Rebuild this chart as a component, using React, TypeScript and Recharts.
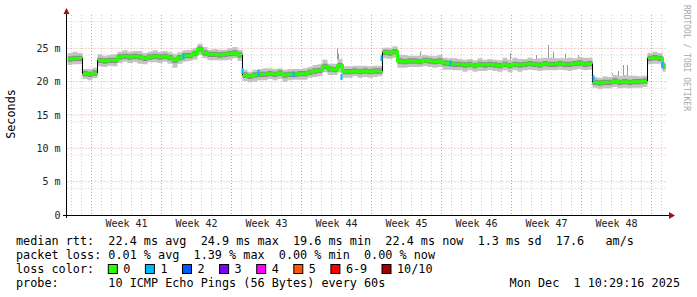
import {
  ComposedChart,
  Area,
  Line,
  Scatter,
  XAxis,
  YAxis,
  CartesianGrid,
  ReferenceLine,
} from 'recharts';

// one sample every half day, day 0 = left edge of the plot
const STEP = 0.5;
const END_DAY = 59.8;

// median rtt in ms
const median = [
  23.4, 23.5, 23.5, 21.2, 21.1, 21.3, 23.2, 23.1, 23.2, 23.2,
  23.7, 23.8, 23.7, 23.8, 23.7, 23.5, 23.7, 23.8, 23.7, 23.8,
  23.6, 23.2, 23.6, 23.9, 23.9, 24.2, 24.9, 24.3, 24.1, 24.1,
  24.0, 24.1, 24.2, 24.3, 24.0, 21.0, 20.8, 21.0, 21.1, 21.1,
  21.2, 21.1, 21.3, 21.0, 21.1, 21.1, 21.2, 21.2, 21.4, 21.6,
  21.7, 22.3, 21.9, 21.8, 22.4, 21.5, 21.5, 21.6, 21.5, 21.6,
  21.5, 21.6, 21.6, 24.4, 24.3, 24.5, 23.1, 23.0, 23.1, 23.1,
  23.0, 23.2, 23.1, 23.0, 23.1, 22.8, 22.7, 22.6, 22.6, 22.5,
  22.6, 22.4, 22.6, 22.5, 22.6, 22.5, 22.4, 22.6, 22.4, 22.6,
  22.5, 22.6, 22.7, 22.6, 22.5, 22.7, 22.6, 22.6, 22.7, 22.6,
  22.6, 22.7, 22.8, 22.6, 22.7, 19.9, 19.8, 19.9, 19.9, 20.1,
  19.9, 20.0, 19.9, 20.0, 20.0, 20.1, 23.5, 23.6, 23.5, 22.3,
];

// how far the smoke reaches above / below the median (ms)
const smokeUp = [
  0.9, 1.0, 0.8, 0.7, 0.8, 0.8, 0.9, 0.8, 0.8, 0.9,
  0.8, 0.9, 0.8, 0.8, 0.9, 0.8, 0.8, 0.9, 0.8, 0.8,
  0.8, 1.0, 0.8, 0.8, 0.9, 0.8, 0.8, 0.9, 0.7, 0.8,
  0.8, 0.7, 0.8, 0.9, 0.8, 0.8, 0.7, 0.8, 0.8, 0.9,
  0.8, 0.8, 0.7, 0.8, 0.8, 0.8, 0.7, 0.8, 0.8, 0.9,
  0.9, 1.0, 0.8, 0.9, 1.0, 0.8, 0.8, 0.8, 0.9, 0.8,
  0.8, 0.8, 0.8, 0.7, 0.8, 0.8, 0.9, 1.0, 0.8, 0.8,
  0.9, 0.8, 0.8, 0.8, 0.9, 0.8, 0.8, 0.9, 0.8, 0.8,
  0.8, 0.8, 0.9, 0.8, 0.8, 0.8, 0.8, 1.0, 0.9, 1.0,
  0.9, 0.8, 0.9, 0.8, 1.0, 0.9, 1.0, 0.9, 0.8, 0.9,
  1.0, 0.8, 0.9, 1.0, 0.9, 0.8, 0.8, 0.9, 0.8, 0.9,
  0.9, 1.0, 1.0, 0.9, 0.8, 0.8, 0.8, 0.9, 0.8, 0.7,
];
const smokeDown = [
  0.9, 0.9, 0.9, 0.8, 0.9, 0.8, 0.9, 0.9, 0.8, 0.9,
  0.9, 0.8, 0.9, 0.9, 1.0, 0.9, 0.8, 0.9, 0.9, 0.8,
  0.9, 1.1, 0.9, 0.9, 0.8, 0.9, 0.9, 0.8, 0.9, 0.9,
  0.8, 0.9, 0.9, 0.8, 0.9, 0.9, 0.9, 1.0, 0.9, 0.9,
  0.8, 0.9, 0.9, 1.0, 0.9, 0.8, 0.9, 0.9, 0.8, 0.9,
  0.9, 0.9, 0.9, 0.8, 1.0, 0.9, 0.9, 0.8, 0.9, 0.9,
  0.9, 0.9, 0.8, 0.9, 0.9, 0.9, 1.0, 0.9, 0.9, 0.9,
  0.8, 0.9, 0.9, 0.9, 0.9, 1.0, 0.9, 0.9, 0.9, 1.0,
  0.9, 0.9, 1.0, 0.9, 0.9, 0.9, 0.9, 0.9, 1.0, 0.9,
  1.0, 0.9, 0.9, 0.9, 0.9, 1.0, 0.9, 0.9, 0.9, 0.9,
  1.0, 0.9, 0.9, 0.9, 0.9, 0.8, 0.9, 0.9, 0.9, 0.9,
  0.9, 0.9, 0.9, 0.9, 0.9, 0.9, 0.9, 0.9, 0.8, 0.8,
];
const INNER = 0.4;

// thin single-ping spikes above the smoke
const spikeDays = [25.6, 27.0, 27.1, 35.3, 44.3, 46.9, 48.1, 48.6, 49.8, 51.1, 54.5, 55.1, 55.6, 56.0];
const spikeTops = [23.2, 25.0, 24.2, 24.5, 24.3, 24.0, 25.5, 24.5, 24.2, 24.0, 21.3, 21.6, 22.5, 22.5];

// samples with 1/10 loss (cyan)
const lossDays = [11.6, 17.5, 19.1, 22.6, 27.4, 31.4, 38.3, 52.6, 59.5];
const lossValues = [23.75, 21.6, 21.3, 21.1, 20.7, 23.5, 22.75, 20.5, 22.5];

const weekTicks = [5.9, 12.9, 19.9, 26.9, 33.9, 40.9, 47.9, 54.9];
const weekLabels = ['Week 41', 'Week 42', 'Week 43', 'Week 44', 'Week 45', 'Week 46', 'Week 47', 'Week 48'];
const weekLines = [2.4, 9.4, 16.4, 23.4, 30.4, 37.4, 44.4, 51.4, 58.4];
const dayLines = Array.from({ length: 60 }, (_, k) => k).filter((k) => k % 7 !== 2).map((k) => k + 0.4);

const yTicks = [0, 5, 10, 15, 20, 25];
const yMajor = [5, 10, 15, 20, 25];
const yMinor = Array.from({ length: 30 }, (_, k) => k + 1).filter((v) => v % 5 !== 0);

const lossLabels = ['0', '1', '2', '3', '4', '5', '6-9', '10/10'];
const lossColors = ['#26ff00', '#00b8ff', '#0059ff', '#7e00ff', '#ff00ff', '#ff5500', '#ff0000', '#a10000'];

const legendLines = [
  'median rtt:  22.4 ms avg  24.9 ms max  19.6 ms min  22.4 ms now  1.3 ms sd  17.6   am/s',
  'packet loss: 0.01 % avg  1.39 % max  0.00 % min  0.00 % now',
  'loss color:',
  'probe:       10 ICMP Echo Pings (56 Bytes) every 60s',
];
const stamp = 'Mon Dec  1 10:29:16 2025';

const MONO = "'DejaVu Sans Mono', monospace";

const smokeAt = (i: number) => ({
  outer: [median[i] - smokeDown[i], median[i] + smokeUp[i]],
  inner: [median[i] - INNER, median[i] + INNER],
});

// build rows; the green line is broken at the jumps so the steps stay black
const rows: any[] = [];
const jumps: { d: number; from: number; to: number }[] = [];
median.forEach((m, i) => {
  const d = i * STEP;
  if (i > 0 && Math.abs(m - median[i - 1]) > 1.5) {
    rows.push({ d, green: median[i - 1], ...smokeAt(i - 1) });
    rows.push({ d, green: null, ...smokeAt(i - 1) });
    jumps.push({ d, from: median[i - 1], to: m });
  }
  rows.push({ d, green: m, ...smokeAt(i) });
});
rows.push({ d: END_DAY, green: median[median.length - 1], ...smokeAt(median.length - 1) });

const spikes = spikeDays.map((d, k) => {
  const i = Math.floor(d / STEP);
  return { d, base: median[i] + smokeUp[i], top: spikeTops[k] };
});

const lossData = lossDays.map((d, i) => ({ d, v: lossValues[i] }));

function LegendOverlay() {
  let bx = 108.3;
  const boxes = lossLabels.map((label, i) => {
    const x = bx;
    bx += 15 + label.length * 7 + 15.1;
    return (
      <g key={label}>
        <rect x={x} y={264.5} width={9} height={9} fill={lossColors[i]} stroke="#000" strokeWidth={1} />
        <text x={x + 15} y={273} style={{ whiteSpace: 'pre' }}>{label}</text>
      </g>
    );
  });

  return (
    <svg
      width={697}
      height={297}
      style={{ position: 'absolute', left: 0, top: 0, pointerEvents: 'none' }}
      fontFamily={MONO}
      fontSize={11.8}
      fill="#000"
    >
      <text transform="translate(15,114) rotate(-90)" textAnchor="middle">Seconds</text>
      <text transform="translate(684,5) rotate(90)" fontSize={8} fill="#a8a8a8">RRDTOOL / TOBI OETIKER</text>

      {/* axes with arrow heads */}
      <line x1={66.5} y1={12} x2={66.5} y2={218} stroke="#000" />
      <line x1={63} y1={215.5} x2={670} y2={215.5} stroke="#000" />
      <polygon points="63.5,14 69.5,14 66.5,8" fill="#a01010" />
      <polygon points="669,212 669,219 675,215.5" fill="#a01010" />

      {legendLines.map((line, i) => (
        <text key={i} x={16} y={245 + i * 14.1} style={{ whiteSpace: 'pre' }}>{line}</text>
      ))}
      {boxes}
      <text x={680} y={287.3} textAnchor="end" style={{ whiteSpace: 'pre' }}>{stamp}</text>
    </svg>
  );
}

export default function App() {
  return (
    <div style={{ position: 'absolute', left: 0, top: 0, width: 697, height: 297, background: '#fff' }}>
      <ComposedChart
        width={697}
        height={297}
        data={rows}
        margin={{ top: 15, right: 29.5, bottom: 62, left: 7.5 }}
      >
        <CartesianGrid
          stroke="#cfcfcf"
          strokeDasharray="1 2"
          horizontalValues={yMinor}
          verticalValues={dayLines}
        />
        <CartesianGrid
          stroke="#e89a9a"
          strokeDasharray="1 2"
          horizontalValues={yMajor}
          verticalValues={weekLines}
        />
        <XAxis
          dataKey="d"
          type="number"
          domain={[0, 60]}
          ticks={weekTicks}
          tickFormatter={(v: number) => weekLabels[weekTicks.indexOf(v)]}
          axisLine={false}
          tickLine={false}
          tickSize={0}
          tickMargin={5}
          height={20}
          allowDataOverflow
          tick={{ fontFamily: MONO, fontSize: 10, fill: '#222' }}
        />
        <YAxis
          type="number"
          domain={[0, 30]}
          ticks={yTicks}
          tickFormatter={(v: number) => (v === 0 ? '0' : `${v} m`)}
          axisLine={false}
          tickLine={false}
          tickSize={0}
          tickMargin={7}
          width={60}
          allowDataOverflow
          tick={{ fontFamily: MONO, fontSize: 10, fill: '#222' }}
        />
        <Area
          dataKey="outer"
          type="stepAfter"
          stroke="none"
          fill="#c4c4c4"
          fillOpacity={1}
          isAnimationActive={false}
          dot={false}
          activeDot={false}
        />
        <Area
          dataKey="inner"
          type="stepAfter"
          stroke="none"
          fill="#8a8a8a"
          fillOpacity={1}
          isAnimationActive={false}
          dot={false}
          activeDot={false}
        />
        {spikes.map((s) => (
          <ReferenceLine
            key={`s${s.d}`}
            segment={[{ x: s.d, y: s.base }, { x: s.d, y: s.top }]}
            stroke="#9a9a9a"
            strokeWidth={1}
          />
        ))}
        <Line
          dataKey="green"
          type="stepAfter"
          stroke="#26ff00"
          strokeWidth={3}
          dot={false}
          activeDot={false}
          isAnimationActive={false}
        />
        {jumps.map((j) => (
          <ReferenceLine
            key={j.d}
            segment={[{ x: j.d, y: j.from }, { x: j.d, y: j.to }]}
            stroke="#000"
            strokeWidth={1}
          />
        ))}
        <Scatter
          data={lossData}
          dataKey="v"
          isAnimationActive={false}
          shape={(props: any) => (
            <rect x={props.cx - 1} y={props.cy - 3} width={2} height={6} fill="#00b8ff" />
          )}
        />
      </ComposedChart>
      <LegendOverlay />
    </div>
  );
}
